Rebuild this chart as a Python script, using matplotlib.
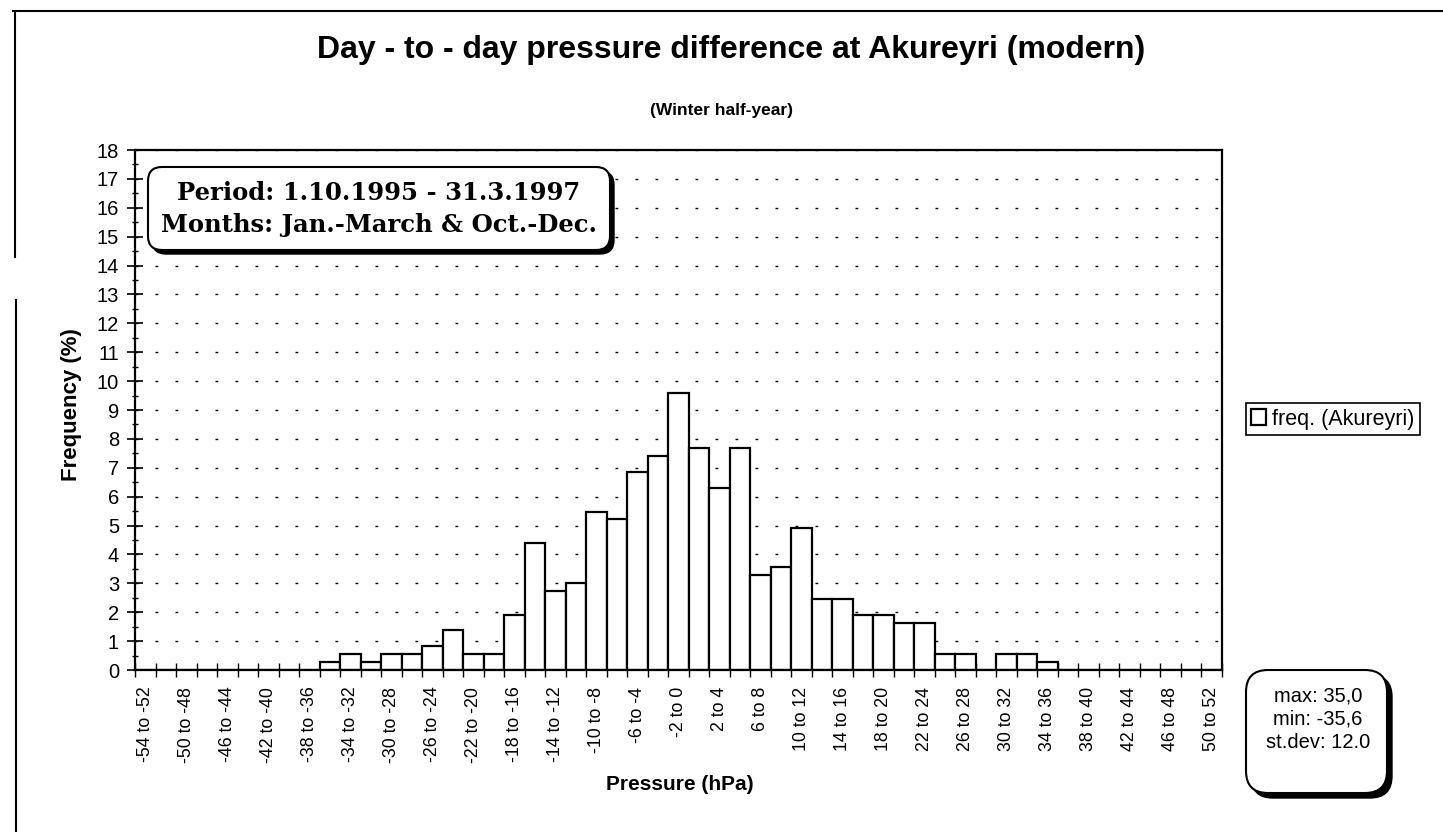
#day-to-day pressure difference histogram, Akureyri winter half-year
import matplotlib
matplotlib.use('Agg')
import matplotlib.pyplot as plt
from matplotlib.patches import FancyBboxPatch
from matplotlib.lines import Line2D
from matplotlib.ticker import MultipleLocator
from matplotlib.transforms import IdentityTransform
import numpy as np

W, H = 1443, 832

# bins of 2 hPa, lower edge of each bin
bin_start = list(range(-54, 52, 2))
bin_labels = ['%d to %d' % (lo, lo + 2) for lo in bin_start]

# frequency (%)
freq = [0, 0, 0, 0, 0, 0, 0, 0, 0,
        0.27, 0.55, 0.27, 0.55, 0.55, 0.82, 1.37, 0.55, 0.55, 1.92,
        4.38, 2.74, 3.01, 5.48, 5.21, 6.85, 7.40, 9.59, 7.67, 6.30,
        7.67, 3.29, 3.56, 4.93, 2.47, 2.47, 1.92, 1.92, 1.64, 1.64,
        0.55, 0.55, 0, 0.55, 0.55, 0.27,
        0, 0, 0, 0, 0, 0, 0, 0]

stats_text = 'max: 35,0\nmin: -35,6\nst.dev: 12.0'
period_lines = ['Period: 1.10.1995 - 31.3.1997', 'Months: Jan.-March & Oct.-Dec.']

plt.rcParams['font.family'] = ['Liberation Sans', 'DejaVu Sans']


# convert image pixel coords (top-left origin) to figure fractions
def fx(x):
    return x / W


def fy(y):
    return 1 - y / H


# rounded box with a drop shadow, in image pixels
def shadow_box(fig, x0, y0, x1, y1, r, off=5):
    shadow = FancyBboxPatch((x0 + off, H - y1 - off), x1 - x0, y1 - y0,
                            boxstyle='round,pad=0,rounding_size=%d' % r,
                            transform=IdentityTransform(), facecolor='black',
                            edgecolor='black', zorder=10)
    box = FancyBboxPatch((x0, H - y1), x1 - x0, y1 - y0,
                         boxstyle='round,pad=0,rounding_size=%d' % r,
                         transform=IdentityTransform(), facecolor='white',
                         edgecolor='black', linewidth=1.5, zorder=11)
    fig.add_artist(shadow)
    fig.add_artist(box)


fig = plt.figure(figsize=(W / 100, H / 100), dpi=100)
ax = fig.add_axes([fx(135), fy(670), (1222 - 135) / W, (670 - 150) / H])

x = np.arange(len(freq))
bars = ax.bar(x, freq, width=1.0, color='white', edgecolor='black',
              linewidth=1.6, zorder=3, label='freq. (Akureyri)')

ax.set_xlim(-0.5, len(freq) - 0.5)
ax.set_ylim(0, 18)

#axis styling
for sp in ax.spines.values():
    sp.set_linewidth(1.6)
    sp.set_zorder(4)

ax.set_yticks(range(0, 19))
ax.yaxis.set_minor_locator(MultipleLocator(0.5))
ax.tick_params(axis='y', which='major', direction='inout', length=11,
               width=1.2, labelsize=14.5, pad=6)
ax.tick_params(axis='y', which='minor', direction='inout', length=5, width=1)

ax.set_xticks(np.arange(-0.5, len(freq), 1.0))
ax.set_xticklabels([])
ax.set_xticks(x[::2], minor=True)
ax.set_xticklabels(bin_labels[::2], minor=True, rotation=90)
ax.tick_params(axis='x', which='major', direction='inout', length=10, width=1)
ax.tick_params(axis='x', which='minor', length=0, labelsize=12.8, pad=12)

ax.grid(axis='y', which='major', color='black', linewidth=1,
        linestyle=(0, (2, 12.4)))
ax.set_axisbelow(True)

#titles and axis labels
fig.text(fx(731), fy(50), 'Day - to - day pressure difference at Akureyri (modern)',
         ha='center', va='center', fontsize=23, fontweight='bold')
fig.text(fx(722), fy(110), '(Winter half-year)', ha='center', va='center',
         fontsize=12.5, fontweight='bold')
fig.text(fx(72), fy(405), 'Frequency (%)', rotation=90, ha='center',
         va='center', fontsize=16, fontweight='bold')
fig.text(fx(680), fy(785), 'Pressure (hPa)', ha='center', va='center',
         fontsize=15, fontweight='bold')

#period box
shadow_box(fig, 148, 167, 610, 250, 14, off=4)
fig.text(fx(379), fy(193), period_lines[0], ha='center', va='center',
         fontsize=17.5, fontweight='bold', family='DejaVu Serif', zorder=12)
fig.text(fx(379), fy(225), period_lines[1], ha='center', va='center',
         fontsize=17.5, fontweight='bold', family='DejaVu Serif', zorder=12)

#stats box
shadow_box(fig, 1246, 670, 1387, 793, 22, off=5)
fig.text(fx(1318), fy(719), stats_text, ha='center', va='center',
         fontsize=14.5, linespacing=1.3, zorder=12)

#legend
leg = ax.legend(loc='center left', bbox_to_anchor=(fx(1246), fy(419)),
                bbox_transform=fig.transFigure, fontsize=15.5, frameon=True,
                fancybox=False, edgecolor='black', framealpha=1,
                handlelength=0.7, handleheight=0.7, handletextpad=0.25,
                borderpad=0.25, borderaxespad=0)
leg.get_frame().set_linewidth(1.2)

#page border from the scan
fig.add_artist(Line2D([fx(13), 1], [fy(11), fy(11)], color='black', lw=1.5))
fig.add_artist(Line2D([fx(15), fx(15)], [fy(11), fy(257)], color='black', lw=1.5))
fig.add_artist(Line2D([fx(16), fx(16)], [fy(300), 0], color='black', lw=1.5))

plt.savefig('out.png', dpi=100)
